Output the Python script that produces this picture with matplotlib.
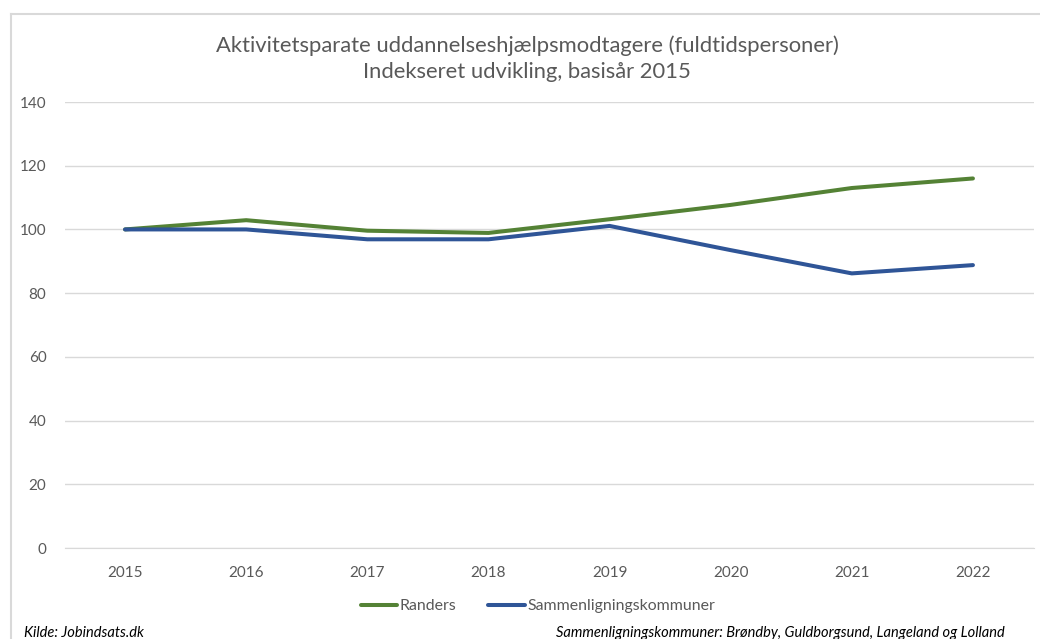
import matplotlib
matplotlib.use("Agg")
import matplotlib.pyplot as plt
from matplotlib.lines import Line2D

years = ["2015", "2016", "2017", "2018", "2019", "2020", "2021", "2022"]
randers = [100, 102.9, 99.6, 98.9, 103.2, 107.7, 113.0, 116.0]
sammen = [100, 100.0, 96.9, 96.9, 101.1, 93.5, 86.2, 88.8]
yticks = [0, 20, 40, 60, 80, 100, 120, 140]

title = "Aktivitetsparate uddannelseshjælpsmodtagere (fuldtidspersoner)\nIndekseret udvikling, basisår 2015"
font = ["Lato", "DejaVu Sans"]
plt.rcParams["font.family"] = font

W, H = 1040, 639
fig = plt.figure(figsize=(W / 100, H / 100), dpi=100)
ax = fig.add_axes([64.5 / W, 1 - 548 / H, (1033.5 - 64.5) / W, (548 - 102) / H])

x = list(range(len(years)))
l1, = ax.plot(x, randers, color="#548235", lw=2.9, solid_capstyle="round", label="Randers")
l2, = ax.plot(x, sammen, color="#2F5597", lw=2.9, solid_capstyle="round", label="Sammenligningskommuner")

ax.set_xlim(-0.5, len(years) - 0.5)
ax.set_ylim(0, 140)
ax.set_yticks(yticks)
ax.set_yticklabels([str(v) for v in yticks])
ax.set_xticks(x)
ax.set_xticklabels(years)
ax.grid(axis="y", color="#d9d9d9", lw=1)
ax.set_axisbelow(True)
for s in ["top", "right", "left"]:
    ax.spines[s].set_visible(False)
ax.spines["bottom"].set_color("#d9d9d9")
ax.tick_params(axis="both", length=0, colors="#595959", labelsize=11)
ax.tick_params(axis="y", pad=13)
ax.tick_params(axis="x", pad=13)

fig.text(527 / W, 1 - 59 / H, title, ha="center", va="center", fontsize=15.8,
         color="#595959", linespacing=1.38)

fig.legend(handles=[l1, l2], loc="center", bbox_to_anchor=(538 / W, 1 - 606 / H),
           ncol=2, frameon=False, fontsize=11.4, handlelength=2.3, handletextpad=0.15,
           columnspacing=2.0, labelcolor="#595959")

fig.text(24 / W, 1 - 637 / H, "Kilde: Jobindsats.dk", ha="left", va="baseline",
         fontsize=10.5, style="italic", color="#000000")
fig.text(1005 / W, 1 - 637 / H, "Sammenligningskommuner: Brøndby, Guldborgsund, Langeland og Lolland",
         ha="right", va="baseline", fontsize=10.5, style="italic", color="#000000")

# chart frame (top and left edges visible)
fig.add_artist(Line2D([11 / W, 1], [1 - 14 / H, 1 - 14 / H], transform=fig.transFigure,
                      color="#d9d9d9", lw=1.5))
fig.add_artist(Line2D([11 / W, 11 / W], [0, 1 - 14 / H], transform=fig.transFigure,
                      color="#d9d9d9", lw=1.5))

fig.savefig("out.png", dpi=100, facecolor="white")
